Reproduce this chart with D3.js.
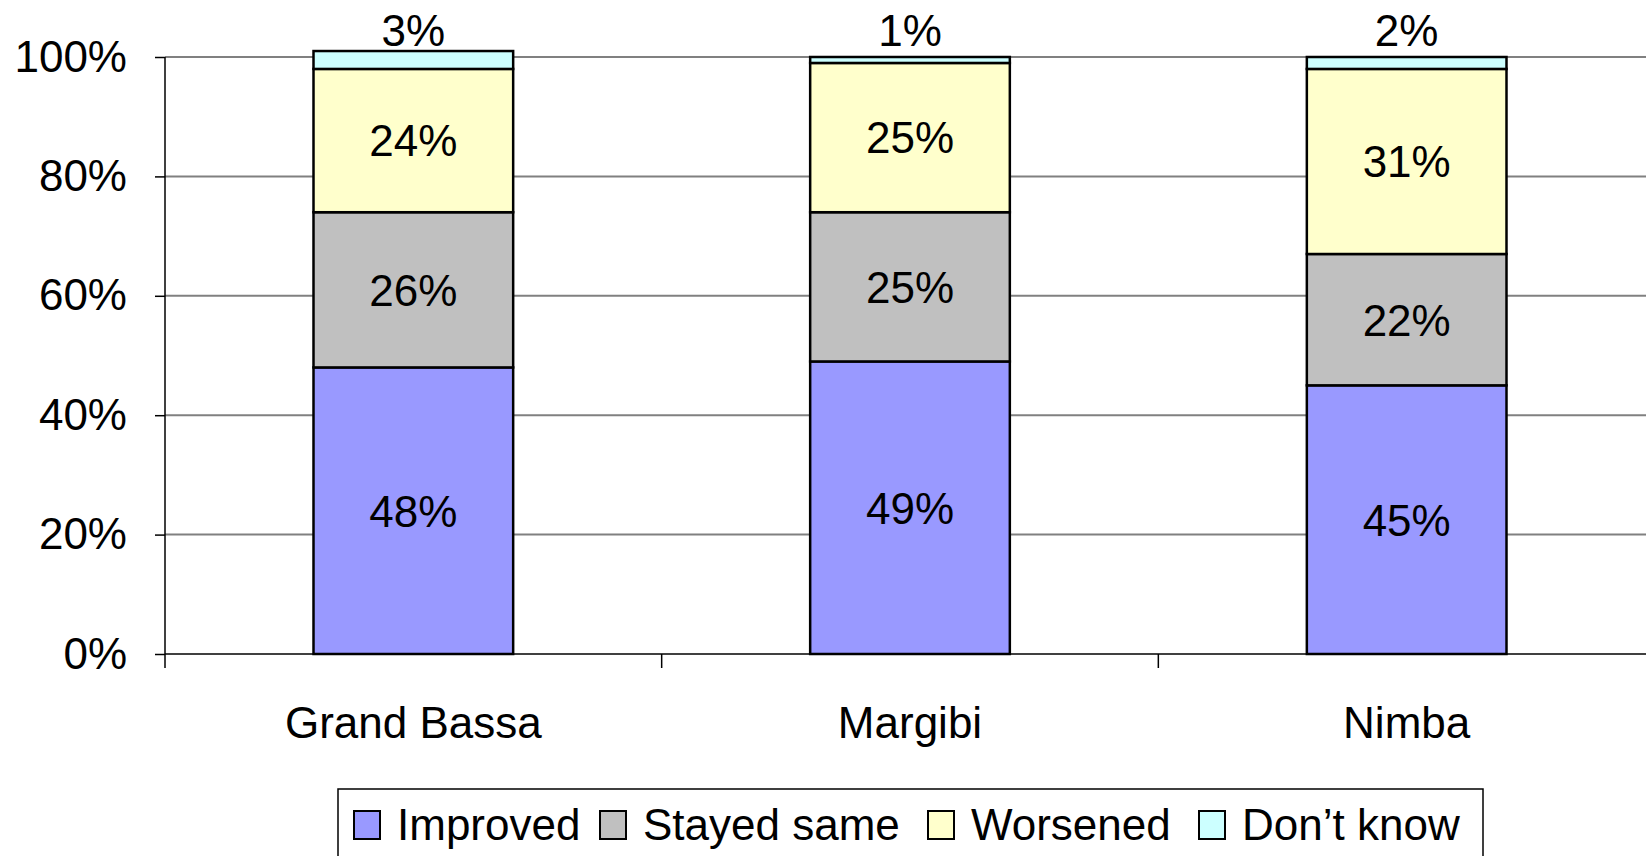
<!DOCTYPE html>
<html><head><meta charset="utf-8">
<script src="https://cdn.jsdelivr.net/npm/d3@7"></script>
<style>body{margin:0;background:#fff}svg{display:block}text{font-family:"Liberation Sans",Arial,sans-serif}</style>
</head><body>
<svg id="chart" width="1646" height="856"></svg>
<script>
const categories = ["Grand Bassa", "Margibi", "Nimba"];
const seriesNames = ["Improved", "Stayed same", "Worsened", "Don\u2019t know"];
const improved = [48, 49, 45];
const stayedSame = [26, 25, 22];
const worsened = [24, 25, 31];
const dontKnow = [3, 1, 2];
const colors = ["#9999FF", "#C0C0C0", "#FFFFCC", "#CCFFFF"];
const yTicks = [0, 0.2, 0.4, 0.6, 0.8, 1.0];

(function () {
const series = [improved, stayedSame, worsened, dontKnow];
const rows = categories.map((c, i) => {
  const r = {cat: c};
  seriesNames.forEach((s, j) => r[s] = series[j][i] / 100);
  return r;
});
const stacked = d3.stack().keys(seriesNames)(rows);

const svg = d3.select("#chart");
const W = 1646;
const pLeft = 165, pRight = 1655, pTop = 57, pBottom = 654;
const x = d3.scaleBand().domain(categories).range([pLeft, pRight]).paddingInner(0.598).paddingOuter(0.299);
const xb = d3.scaleBand().domain(categories).range([pLeft, pRight]);
const y = d3.scaleLinear().domain([0, 1]).range([pBottom, pTop]);

// gridlines
svg.append("g").selectAll("line").data(yTicks.slice(1)).join("line")
  .attr("x1", pLeft).attr("x2", W).attr("y1", d => y(d)).attr("y2", d => y(d))
  .attr("stroke", "#808080").attr("stroke-width", 2);

// y axis
const yAxis = svg.append("g").attr("transform", `translate(${pLeft},0)`)
  .call(d3.axisLeft(y).tickValues(yTicks).tickFormat(d3.format(".0%")).tickSize(10).tickPadding(28));
yAxis.select(".domain").remove();
yAxis.selectAll(".tick line").attr("stroke", "#000").attr("stroke-width", 1.5);
yAxis.selectAll(".tick text").attr("font-size", 44).attr("fill", "#000").attr("font-family", '"Liberation Sans", Arial, sans-serif');
svg.append("line").attr("x1", pLeft).attr("x2", pLeft).attr("y1", pTop).attr("y2", pBottom + 14)
  .attr("stroke", "#000").attr("stroke-width", 1.5);

// x axis line & ticks
svg.append("line").attr("x1", pLeft).attr("x2", W).attr("y1", pBottom).attr("y2", pBottom)
  .attr("stroke", "#000").attr("stroke-width", 1.5);
svg.append("g").selectAll("line").data(categories.slice(1)).join("line")
  .attr("x1", d => xb(d)).attr("x2", d => xb(d)).attr("y1", pBottom).attr("y2", pBottom + 14)
  .attr("stroke", "#000").attr("stroke-width", 1.5);
svg.append("g").selectAll("text").data(categories).join("text")
  .attr("x", d => xb(d) + xb.bandwidth() / 2).attr("y", 738)
  .attr("text-anchor", "middle").attr("font-size", 44).text(d => d);

// bars
const layers = svg.append("g").selectAll("g").data(stacked).join("g")
  .attr("fill", (d, i) => colors[i]);
layers.selectAll("rect").data(d => d).join("rect")
  .attr("x", d => x(d.data.cat)).attr("width", x.bandwidth())
  .attr("y", d => y(d[1])).attr("height", d => y(d[0]) - y(d[1]))
  .attr("stroke", "#000").attr("stroke-width", 2.5);

// labels
stacked.forEach((layer, li) => {
  svg.append("g").selectAll("text").data(layer).join("text")
    .attr("x", d => x(d.data.cat) + x.bandwidth() / 2)
    .attr("y", d => li === 3 ? y(1) - 11 : (y(d[0]) + y(d[1])) / 2)
    .attr("dy", li === 3 ? 0 : "0.36em")
    .attr("text-anchor", "middle").attr("font-size", 44).attr("fill", "#000")
    .text(d => Math.round((d[1] - d[0]) * 100) + "%");
});

// legend
const lg = svg.append("g");
lg.append("rect").attr("x", 338).attr("y", 789).attr("width", 1145).attr("height", 90)
  .attr("fill", "#fff").attr("stroke", "#000").attr("stroke-width", 1.5);
const legX = [354, 600, 928, 1199];
seriesNames.forEach((s, i) => {
  lg.append("rect").attr("x", legX[i]).attr("y", 811).attr("width", 26).attr("height", 28)
    .attr("fill", colors[i]).attr("stroke", "#000").attr("stroke-width", 2);
  lg.append("text").attr("x", legX[i] + 43).attr("y", 840).attr("font-size", 44).text(s);
});
})();
</script>
</body></html>
